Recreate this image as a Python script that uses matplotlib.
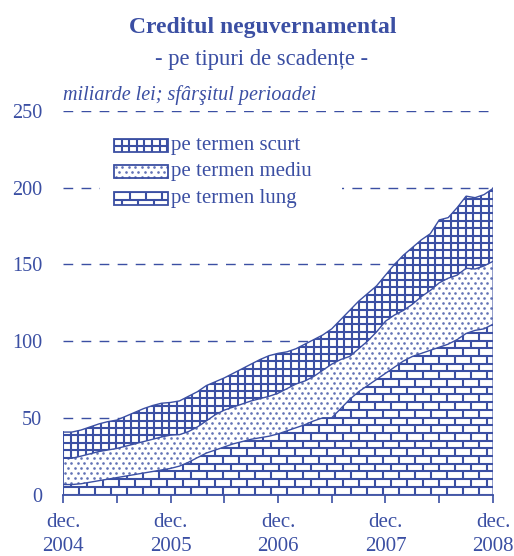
import numpy as np
import matplotlib
matplotlib.use("Agg")
import matplotlib.pyplot as plt
from matplotlib.collections import LineCollection
from matplotlib.patches import Rectangle
from matplotlib.transforms import Affine2D

# ------------------------------------------------------------
# data: monthly stocks, dec. 2004 .. dec. 2008 (mld. lei)
# ------------------------------------------------------------
months = np.arange(49)
long_term = [6.5, 6.5, 7, 8, 9, 10, 11, 12, 13, 14, 15, 16,
             17, 18.5, 21, 24, 27, 29, 31, 33, 34.5, 36, 37, 38,
             39.5, 41.5, 43.5, 45.5, 48, 50, 50, 56, 62, 67, 71, 75,
             79, 83, 87, 90, 92, 94, 96, 98, 101, 105, 107, 108, 111]
medium_term = [17.1, 17.1, 18, 18.5, 19, 19, 19, 19.5, 20, 20.5, 21, 21.5,
               21.7, 20.5, 20, 20, 21, 23, 24, 24, 24.5, 25, 25.5, 26,
               26.5, 27.5, 28.5, 28.5, 29, 31, 35, 32, 28, 28, 29, 31,
               34, 34, 33, 34, 37, 39, 42, 43, 42, 42.5, 40, 41, 41]
short_term = [17.1, 17.1, 17, 17.5, 18, 18.5, 18.5, 19.5, 20.5, 21.5, 22, 22,
              21.3, 22, 23, 23, 23, 21.5, 21, 22, 23, 24, 25.5, 26.5,
              26, 24, 23, 24, 24, 23, 23, 26, 30, 31, 31, 30,
              30, 33, 36, 37, 37, 37, 41, 39.5, 44, 47, 46.5, 46.5, 47.5]

labels = ["pe termen scurt", "pe termen mediu", "pe termen lung"]
xtick_pos = [0, 12, 24, 36, 48]
xtick_lab = ["dec.\n2004", "dec.\n2005", "dec.\n2006", "dec.\n2007", "dec.\n2008"]
yticks = [0, 50, 100, 150, 200, 250]

BLUE = "#3b4fa3"
W, H = 514, 556
plt.rcParams["font.family"] = ["Liberation Serif", "DejaVu Serif"]

fig = plt.figure(figsize=(W / 100, H / 100), dpi=100)
AX_L, AX_B, AX_W, AX_H = 63, 61.5, 430, 383.5
ax = fig.add_axes([AX_L / W, AX_B / H, AX_W / W, AX_H / H])
ax.set_xlim(0, 48)
ax.set_ylim(0, 250)

# axes-pixel transform for the fill patterns
tpx = Affine2D().scale(1 / AX_W, 1 / AX_H) + ax.transAxes
# figure-pixel transform (top-left origin) for the hand-made legend
tfig = Affine2D().scale(1 / W, -1 / H).translate(0, 1) + fig.transFigure


def grid_segs(x0, y0, w, h, dx=7.6, dy=7.4):
    segs = [[(x, y0), (x, y0 + h)] for x in np.arange(x0, x0 + w + 0.1, dx)]
    segs += [[(x0, y), (x0 + w, y)] for y in np.arange(y0, y0 + h + 0.1, dy)]
    return segs


def brick_segs(x0, y0, w, h, bw=16.0, bh=7.7):
    segs = []
    for k, y in enumerate(np.arange(y0, y0 + h + bh, bh)):
        segs.append([(x0, y), (x0 + w, y)])
        for x in np.arange(x0 - bw + (k % 2) * bw / 2, x0 + w + bw, bw):
            segs.append([(x, y), (x, y + bh)])
    return segs


def dot_pts(x0, y0, w, h, dx=6.4, dy=5.0):
    xs, ys = [], []
    for k, y in enumerate(np.arange(y0 + 2, y0 + h, dy)):
        for x in np.arange(x0 + 2 + (k % 2) * dx / 2, x0 + w, dx):
            xs.append(x)
            ys.append(y)
    return xs, ys


def draw_pattern(kind, x0, y0, w, h, trans, clip_path, clip_trans, z=3):
    if kind == "dots":
        xs, ys = dot_pts(x0, y0, w, h)
        art, = ax.plot(xs, ys, "o", ms=1.9, mew=0, color=BLUE, alpha=0.8,
                       transform=trans, zorder=z)
    else:
        segs = grid_segs(x0, y0, w, h) if kind == "grid" else brick_segs(x0, y0, w, h)
        art = LineCollection(segs, colors=BLUE, linewidths=1.5, transform=trans,
                             zorder=z)
        ax.add_collection(art, autolim=False)
    if clip_trans is None:
        art.set_clip_path(clip_path)
    else:
        art.set_clip_path(clip_path, clip_trans)


# gridlines
for yv in yticks[1:]:
    ax.plot([0, 48], [yv, yv], color=BLUE, lw=1.0, dashes=(7, 6), zorder=1)

lt = np.array(long_term)
mt = lt + np.array(medium_term)
st = mt + np.array(short_term)

layers = [(np.zeros_like(lt), lt, "bricks"), (lt, mt, "dots"), (mt, st, "grid")]
for lo, hi, kind in layers:
    coll = ax.fill_between(months, lo, hi, facecolor="white", edgecolor="none",
                           zorder=2)
    draw_pattern(kind, 0, 0, AX_W, AX_H, tpx, coll.get_paths()[0], ax.transData)
    ax.plot(months, hi, color=BLUE, lw=1.0, zorder=4)

ax.plot([0, 0], [0, st[0]], color=BLUE, lw=1.3, zorder=4)
ax.plot([48, 48], [0, st[-1]], color=BLUE, lw=2.0, alpha=0.6, zorder=4)

# axes styling
for s in ["left", "right", "top"]:
    ax.spines[s].set_visible(False)
ax.spines["bottom"].set_color(BLUE)
ax.spines["bottom"].set_linewidth(1.3)
ax.spines["bottom"].set_zorder(5)
ax.set_xticks(xtick_pos)
ax.set_xticks(np.arange(0, 49, 6), minor=True)
ax.set_xticklabels(xtick_lab, fontsize=15, color=BLUE, linespacing=1.38)
ax.tick_params(axis="x", which="both", direction="out", length=6, width=1.2,
               color=BLUE, pad=7)
ax.set_yticks(yticks)
ax.set_yticklabels([str(v) for v in yticks], fontsize=14.6, color=BLUE)
ax.tick_params(axis="y", length=0, pad=15)

# titles
fig.text(263 / W, 1 - 27 / H, "Creditul neguvernamental", ha="center", va="center",
         fontsize=17, fontweight="bold", color=BLUE)
fig.text(262 / W, 1 - 60 / H, "- pe tipuri de scadențe -", ha="center", va="center",
         fontsize=16.3, color=BLUE)
fig.text(63 / W, 1 - 95 / H, "miliarde lei; sfârşitul perioadei", ha="left",
         va="center", fontsize=14.5, style="italic", color=BLUE)

# legend, drawn by hand so the swatches carry the same patterns
bg = Rectangle((100, 128), 242, 86, transform=tfig, facecolor="white",
               edgecolor="none", zorder=1.5)
ax.add_patch(bg)
legend_y = [139, 165, 192]
for (y, lab, kind) in zip(legend_y, labels, ["grid", "dots", "bricks"]):
    box = Rectangle((114, y), 54, 13, transform=tfig, facecolor="white",
                    edgecolor="none", zorder=5)
    ax.add_patch(box)
    clip = Rectangle((114, y), 54, 13, transform=tfig)
    draw_pattern(kind, 114, y, 54, 13, tfig, clip, None, z=6)
    edge = Rectangle((114, y), 54, 13, transform=tfig, facecolor="none",
                     edgecolor=BLUE, lw=1.3, zorder=7)
    ax.add_patch(edge)
    fig.text(171 / W, 1 - (y + 6.5) / H, lab, ha="left", va="center",
             fontsize=15, color=BLUE)

fig.savefig("out.png", dpi=100)
